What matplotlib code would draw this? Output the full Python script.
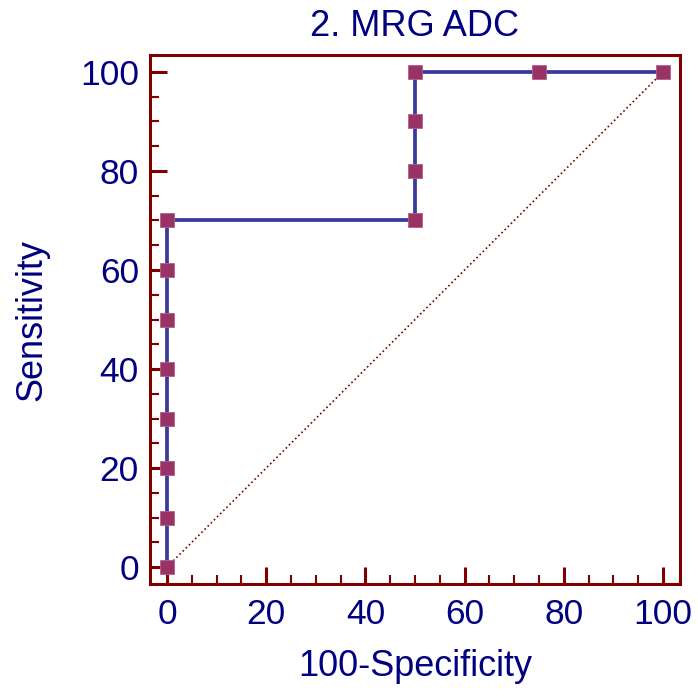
import matplotlib.pyplot as plt
from matplotlib.ticker import MultipleLocator

# ROC points (100-Specificity, Sensitivity)
fpr = [0, 0, 0, 0, 0, 0, 0, 0, 50, 50, 50, 50, 75, 100]
tpr = [0, 10, 20, 30, 40, 50, 60, 70, 70, 80, 90, 100, 100, 100]
diag = [0, 100]

navy = '#000080'
maroon = '#800000'

plt.rcParams['font.family'] = ['Liberation Sans', 'DejaVu Sans']

fig = plt.figure(figsize=(6.98, 6.97), dpi=100)
ax = fig.add_axes([0.2149, 0.1621, 0.7593, 0.759])

ax.plot(diag, diag, color=maroon, linestyle=':', linewidth=1.2)
ax.plot(fpr, tpr, color='#3a3a9c', linewidth=2.7, marker='s', markersize=10.5,
        markerfacecolor='#993366', markeredgecolor='#b06088', markeredgewidth=0.6)

ax.set_xlim(-3.43, 103.43)
ax.set_ylim(-3.43, 103.43)
ax.xaxis.set_major_locator(MultipleLocator(20))
ax.yaxis.set_major_locator(MultipleLocator(20))
ax.xaxis.set_minor_locator(MultipleLocator(5))
ax.yaxis.set_minor_locator(MultipleLocator(5))

for s in ax.spines.values():
    s.set_color(maroon)
    s.set_linewidth(2.2)

ax.tick_params(which='major', direction='in', length=12, width=2.2, color=maroon,
               labelsize=25.5, labelcolor=navy)
ax.tick_params(which='minor', direction='in', length=6.5, width=1.5, color=maroon)
ax.tick_params(axis='x', which='major', pad=10)
ax.tick_params(axis='y', which='major', pad=8)

ax.set_title('2. MRG ADC', fontsize=26, color=navy, pad=14)
ax.set_xlabel('100-Specificity', fontsize=26, color=navy, labelpad=13)
ax.set_ylabel('Sensitivity', fontsize=26, color=navy, labelpad=22)

fig.savefig('out.png', dpi=100)
